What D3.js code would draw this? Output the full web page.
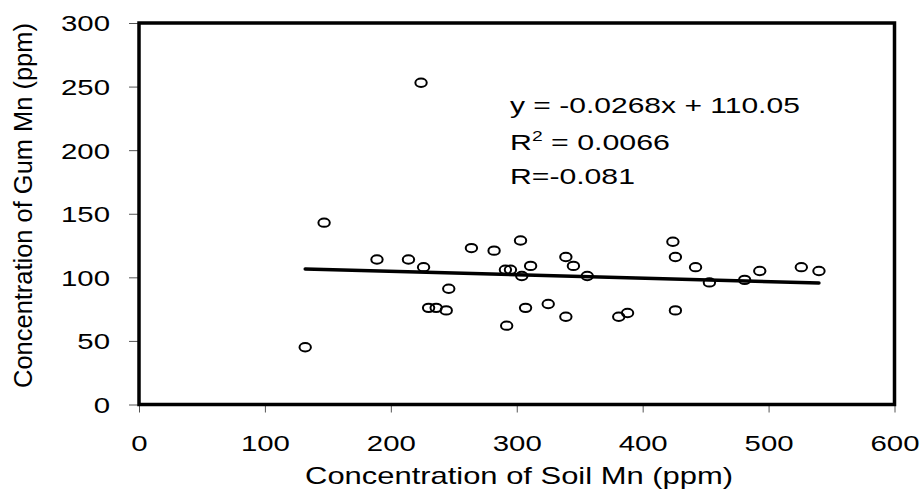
<!DOCTYPE html>
<html lang="en">
<head>
    <meta charset="utf-8" />
    <title>Gum Mn vs Soil Mn</title>
    <script src="https://d3js.org/d3.v7.min.js"></script>
    <style>
        body { margin: 0; background: #fff; }
        text { font-family: "Liberation Sans", Arial, sans-serif; fill: #000; }
    </style>
</head>
<body>
    <div id="chart"></div>
    <script>
        // soil Mn (x) and gum Mn (y)
        var soilMn = [132, 147, 189, 214, 224, 226, 230, 236, 244, 246, 264, 282, 291, 292, 295, 303, 304, 307,
            311, 325, 339, 339, 345, 356, 381, 388, 424, 426, 426, 442, 453, 481, 493, 526, 540];
        var gumMn = [45, 143, 114, 114, 253, 108, 76, 76, 74, 91, 123, 121, 106, 62, 106, 129, 101, 76,
            109, 79, 116, 69, 109, 101, 69, 72, 128, 116, 74, 108, 96, 98, 105, 108, 105];
        var xTicks = [0, 100, 200, 300, 400, 500, 600];
        var yTicks = [0, 50, 100, 150, 200, 250, 300];
        var slope = -0.0268;
        var intercept = 110.05;
        var eqLines = ['y = -0.0268x + 110.05', 'R2 = 0.0066', 'R=-0.081'];

        var width = 924;
        var height = 502;

        var svg = d3.select('#chart')
            .append('svg')
            .attr('width', width)
            .attr('height', height);

        var x = d3.scaleLinear().domain([0, 600]).range([139, 894.5]);
        var y = d3.scaleLinear().domain([0, 300]).range([404.5, 23]);

        // squeeze/stretch a text element horizontally to a given width
        function fit(g, w, extra) {
            var bw = g.node().getBBox().width;
            g.attr('transform', extra + ' scale(' + (w / bw) + ',1)');
        }

        // axes
        var yAxis = svg.append('g')
            .attr('transform', 'translate(' + x(0) + ',0)')
            .call(d3.axisLeft(y).tickValues(yTicks).tickSize(10).tickSizeOuter(0));
        yAxis.select('.domain').remove();
        yAxis.selectAll('line').attr('stroke', '#555');
        yAxis.selectAll('text')
            .attr('x', 0)
            .attr('dy', '0.36em')
            .attr('transform', 'translate(-29,0) scale(1.335,1)')
            .style('font-size', '22px');

        var xAxis = svg.append('g')
            .attr('transform', 'translate(0,' + y(0) + ')')
            .call(d3.axisBottom(x).tickValues(xTicks).tickSize(8).tickSizeOuter(0));
        xAxis.select('.domain').remove();
        xAxis.selectAll('line').attr('stroke', '#555');
        xAxis.selectAll('text')
            .attr('y', 0)
            .attr('dy', 0)
            .attr('transform', 'translate(0,46) scale(1.335,1)')
            .style('font-size', '22px');

        svg.selectAll('.tick text').style('font-family', '"Liberation Sans", Arial, sans-serif').attr('fill', '#000');

        // frame
        svg.append('rect')
            .attr('x', x(0))
            .attr('y', y(300))
            .attr('width', x(600) - x(0))
            .attr('height', y(0) - y(300))
            .attr('fill', 'none')
            .attr('stroke', '#000')
            .attr('stroke-width', 3.5);

        // trend line
        var x0 = d3.min(soilMn), x1 = d3.max(soilMn);
        svg.append('line')
            .attr('x1', x(x0))
            .attr('y1', y(slope * x0 + intercept))
            .attr('x2', x(x1))
            .attr('y2', y(slope * x1 + intercept))
            .attr('stroke', '#000')
            .attr('stroke-width', 3.5)
            .attr('stroke-linecap', 'round');

        // points
        svg.selectAll('.pt')
            .data(soilMn)
            .enter()
            .append('ellipse')
            .attr('class', 'pt')
            .attr('cx', function(d) { return x(d); })
            .attr('cy', function(d, i) { return y(gumMn[i]); })
            .attr('rx', 5.7)
            .attr('ry', 4.2)
            .attr('fill', 'none')
            .attr('stroke', '#000')
            .attr('stroke-width', 2);

        // equation text
        var eqPos = [[510, 113, 290], [510, 150, 160], [510, 184, 125]];
        eqLines.forEach(function(s, i) {
            var t = svg.append('text')
                .attr('x', 0)
                .attr('y', 0)
                .style('font-size', '22px');
            if (s.indexOf('R2') === 0) {
                t.append('tspan').text('R');
                t.append('tspan').attr('dy', -9).style('font-size', '14px').text('2');
                t.append('tspan').attr('dy', 9).text(s.slice(2));
            } else {
                t.text(s);
            }
            fit(t, eqPos[i][2], 'translate(' + eqPos[i][0] + ',' + eqPos[i][1] + ')');
        });

        // axis titles
        var xt = svg.append('text')
            .attr('text-anchor', 'middle')
            .style('font-size', '24px')
            .text('Concentration of Soil Mn (ppm)');
        fit(xt, 428, 'translate(519,484)');

        var yt = svg.append('text')
            .attr('text-anchor', 'middle')
            .style('font-size', '25px')
            .text('Concentration of Gum Mn (ppm)');
        fit(yt, 365, 'translate(31.5,205.5) rotate(-90)');
    </script>
</body>
</html>
